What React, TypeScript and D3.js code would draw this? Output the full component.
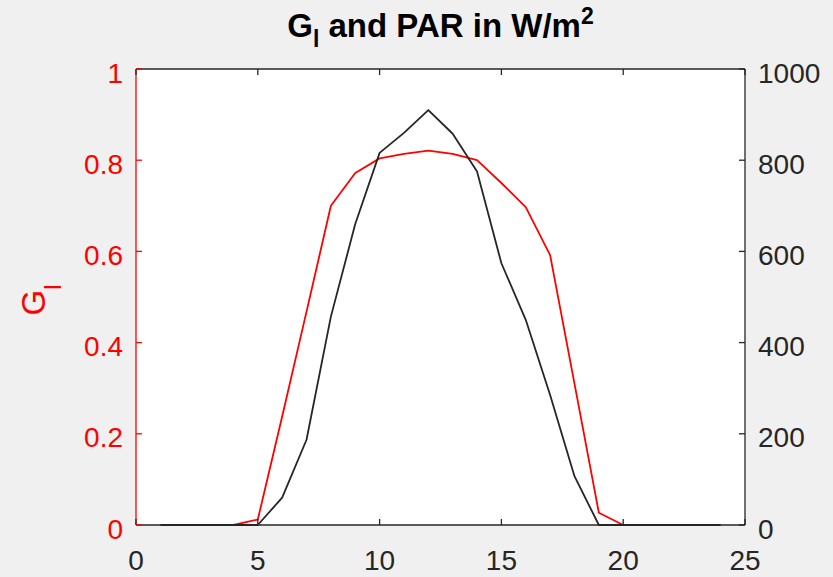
import React from "react";
import * as d3 from "d3";

const hours = [1, 2, 3, 4, 5, 6, 7, 8, 9, 10, 11, 12, 13, 14, 15, 16, 17, 18, 19, 20, 21, 22, 23, 24];
const parValues = [0, 0, 0, 0, 0, 60, 187, 457, 660, 816, 860, 910, 858, 775, 574, 450, 285, 107, 0, 0, 0, 0, 0, 0];
const glHours = [4, 5, 6, 7, 8, 9, 10, 11, 12, 13, 14, 15, 16, 17, 18, 19, 20];
const glValues = [0, 0.012, 0.238, 0.468, 0.7, 0.772, 0.804, 0.814, 0.821, 0.814, 0.8, 0.75, 0.697, 0.592, 0.31, 0.027, 0];
const xTicks = [0, 5, 10, 15, 20, 25];
const leftTicks = [0, 0.2, 0.4, 0.6, 0.8, 1];
const rightTicks = [0, 200, 400, 600, 800, 1000];

const W = 833;
const H = 577;
const L = 136, R = 745, T = 69, B = 525;
const FONT = "'Liberation Sans', Arial, Helvetica, sans-serif";
const RED = "#ff0000";
const DARK = "#262626";

export default function App() {
  const x = d3.scaleLinear().domain([0, 25]).range([L, R]);
  const yL = d3.scaleLinear().domain([0, 1]).range([B, T]);
  const yR = d3.scaleLinear().domain([0, 1000]).range([B, T]);

  const glLine = d3
    .line<number>()
    .x((_, i) => x(glHours[i]))
    .y((d) => yL(d))(glValues) as string;
  const parLine = d3
    .line<number>()
    .x((_, i) => x(hours[i]))
    .y((d) => yR(d))(parValues) as string;

  const tickLen = 6;
  return (
    <svg
      width={W}
      height={H}
      style={{ position: "absolute", left: 0, top: 0, display: "block" }}
      fontFamily={FONT}
    >
      <rect x={0} y={0} width={W} height={H} fill="#f0f0f0" />
      <rect x={L} y={T} width={R - L} height={B - T} fill="#ffffff" />

      {/* data */}
      <path d={glLine} fill="none" stroke={RED} strokeWidth={1.8} strokeLinejoin="round" />
      <path d={parLine} fill="none" stroke={DARK} strokeWidth={1.8} strokeLinejoin="round" />

      {/* frame */}
      <line x1={L} x2={R} y1={T} y2={T} stroke={DARK} strokeWidth={1.3} />
      <line x1={L} x2={R} y1={B} y2={B} stroke={DARK} strokeWidth={1.3} />
      <line x1={R} x2={R} y1={T} y2={B} stroke={DARK} strokeWidth={1.3} />
      <line x1={L} x2={L} y1={T} y2={B} stroke={RED} strokeWidth={1.3} />

      {/* x ticks */}
      {xTicks.map((t) => (
        <g key={"x" + t}>
          <line x1={x(t)} x2={x(t)} y1={B} y2={B - tickLen} stroke={DARK} strokeWidth={1.3} />
          <line x1={x(t)} x2={x(t)} y1={T} y2={T + tickLen} stroke={DARK} strokeWidth={1.3} />
          <text x={x(t)} y={570} textAnchor="middle" fontSize={28} fill={DARK}>
            {t}
          </text>
        </g>
      ))}

      {/* left ticks */}
      {leftTicks.map((t) => (
        <g key={"l" + t}>
          <line x1={L} x2={L + tickLen} y1={yL(t)} y2={yL(t)} stroke={RED} strokeWidth={1.3} />
          <text x={123} y={yL(t) + 13.5} textAnchor="end" fontSize={28} fill={RED}>
            {t === 0 || t === 1 ? String(t) : t.toFixed(1)}
          </text>
        </g>
      ))}

      {/* right ticks */}
      {rightTicks.map((t) => (
        <g key={"r" + t}>
          <line x1={R} x2={R - tickLen} y1={yR(t)} y2={yR(t)} stroke={DARK} strokeWidth={1.3} />
          <text x={758} y={yR(t) + 13.5} textAnchor="start" fontSize={28} fill={DARK}>
            {t}
          </text>
        </g>
      ))}

      {/* y label */}
      <text
        transform={`translate(45,${(T + B) / 2 + 3}) rotate(-90)`}
        textAnchor="middle"
        fontSize={33}
        fill={RED}
      >
        G
        <tspan dy={16} fontSize={24}>
          l
        </tspan>
      </text>

      {/* title */}
      <text x={(L + R) / 2} y={37} textAnchor="middle" fontSize={33} fontWeight="bold" fill="#000">
        G
        <tspan dy={10} fontSize={23}>
          l
        </tspan>
        <tspan dy={-10}> and PAR in W/m</tspan>
        <tspan dy={-13} fontSize={23}>
          2
        </tspan>
      </text>
    </svg>
  );
}
